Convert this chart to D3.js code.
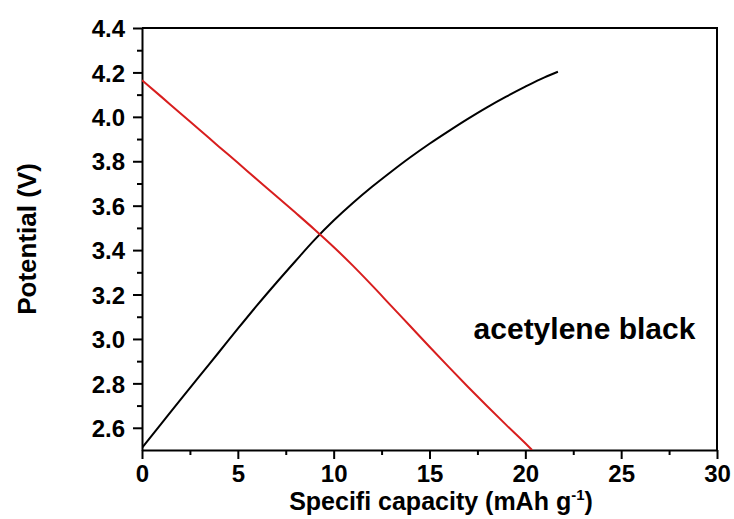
<!DOCTYPE html>
<html>
<head>
<meta charset="utf-8">
<script src="https://cdn.jsdelivr.net/npm/d3@7"></script>
<style>
  body { margin: 0; background: #fff; }
  text { font-family: "Liberation Sans", Arial, sans-serif; font-weight: bold; }
</style>
</head>
<body>
<script>
// charge curve (black)
const chargeCapacity = [0, 1, 2, 3, 4, 5, 6, 7, 8, 9, 10, 11, 12, 13, 14, 15, 16, 17, 18, 19, 20, 21, 21.7];
const chargePotential = [2.51, 2.618, 2.726, 2.833, 2.939, 3.046, 3.151, 3.252, 3.35, 3.446, 3.533, 3.612, 3.685, 3.753, 3.818, 3.879, 3.936, 3.991, 4.043, 4.091, 4.136, 4.178, 4.203];

// discharge curve (red)
const dischargeCapacity = [0, 1, 2, 3, 4, 5, 6, 7, 8, 9, 10, 11, 12, 13, 14, 15, 16, 17, 18, 19, 20, 20.35];
const dischargePotential = [4.165, 4.091, 4.016, 3.942, 3.867, 3.793, 3.718, 3.644, 3.569, 3.493, 3.414, 3.33, 3.241, 3.149, 3.057, 2.965, 2.874, 2.785, 2.698, 2.613, 2.53, 2.5];

const xTicks = [0, 5, 10, 15, 20, 25, 30];
const xMinorTicks = [2.5, 7.5, 12.5, 17.5, 22.5, 27.5];
const yTicks = [2.6, 2.8, 3.0, 3.2, 3.4, 3.6, 3.8, 4.0, 4.2, 4.4];
const yMinorTicks = [2.7, 2.9, 3.1, 3.3, 3.5, 3.7, 3.9, 4.1, 4.3];

const sampleLabel = "acetylene black";

const margin = { top: 28, right: 17, bottom: 69, left: 142 };
const width = 734 - margin.left - margin.right;
const height = 519 - margin.top - margin.bottom;

const svg = d3.select("body")
    .append("svg")
    .attr("width", 734)
    .attr("height", 519);

const g = svg.append("g")
    .attr("transform", "translate(" + margin.left + "," + margin.top + ")");

const x = d3.scaleLinear().domain([0, 30]).range([0, width]);
const y = d3.scaleLinear().domain([2.5, 4.4]).range([height, 0]);

g.append("defs").append("clipPath").attr("id", "clip")
    .append("rect").attr("width", width).attr("height", height);

// minor ticks
g.append("g")
    .attr("transform", "translate(0," + height + ")")
    .call(d3.axisBottom(x).tickValues(xMinorTicks).tickSize(5).tickFormat(""))
    .call(a => a.select(".domain").remove());
g.append("g")
    .call(d3.axisLeft(y).tickValues(yMinorTicks).tickSize(5).tickFormat(""))
    .call(a => a.select(".domain").remove());

// major axes
const xAxis = g.append("g")
    .attr("transform", "translate(0," + height + ")")
    .call(d3.axisBottom(x).tickValues(xTicks).tickSize(9).tickPadding(6).tickSizeOuter(0).tickFormat(d3.format("d")));
xAxis.selectAll("text").style("font-size", "24px").attr("fill", "#000");

const yAxis = g.append("g")
    .call(d3.axisLeft(y).tickValues(yTicks).tickSize(9).tickPadding(8).tickSizeOuter(0).tickFormat(d3.format(".1f")));
yAxis.selectAll("text").style("font-size", "24px").attr("fill", "#000").attr("dy", "0.36em");

g.selectAll(".tick line").attr("stroke", "#000").attr("stroke-width", 2);
g.selectAll(".domain").attr("stroke", "#000").attr("stroke-width", 2);

// frame top and right
g.append("path")
    .attr("d", "M0,0H" + width + "V" + height)
    .attr("fill", "none")
    .attr("stroke", "#000")
    .attr("stroke-width", 2);

const line = d3.line()
    .x(d => x(d[0]))
    .y(d => y(d[1]))
    .curve(d3.curveMonotoneX);

const chargeData = chargeCapacity.map((c, i) => [c, chargePotential[i]]);
const dischargeData = dischargeCapacity.map((c, i) => [c, dischargePotential[i]]);

g.append("path")
    .datum(chargeData)
    .attr("clip-path", "url(#clip)")
    .attr("d", line)
    .attr("fill", "none")
    .attr("stroke", "#000")
    .attr("stroke-width", 2);

g.append("path")
    .datum(dischargeData)
    .attr("clip-path", "url(#clip)")
    .attr("d", line)
    .attr("fill", "none")
    .attr("stroke", "#d81e1e")
    .attr("stroke-width", 2);

// label inside plot
g.append("text")
    .attr("x", x(17.3))
    .attr("y", y(3.0))
    .style("font-size", "30px")
    .text(sampleLabel);

// axis titles
const xTitle = svg.append("text")
    .attr("x", 441)
    .attr("y", 510)
    .attr("text-anchor", "middle")
    .style("font-size", "25px");
xTitle.append("tspan").text("Specifi capacity (mAh g");
xTitle.append("tspan").attr("dy", -10).style("font-size", "15px").text("-1");
xTitle.append("tspan").attr("dy", 10).text(")");

svg.append("text")
    .attr("transform", "translate(36," + (margin.top + height / 2) + ") rotate(-90)")
    .attr("text-anchor", "middle")
    .style("font-size", "26px")
    .text("Potential (V)");
</script>
</body>
</html>
